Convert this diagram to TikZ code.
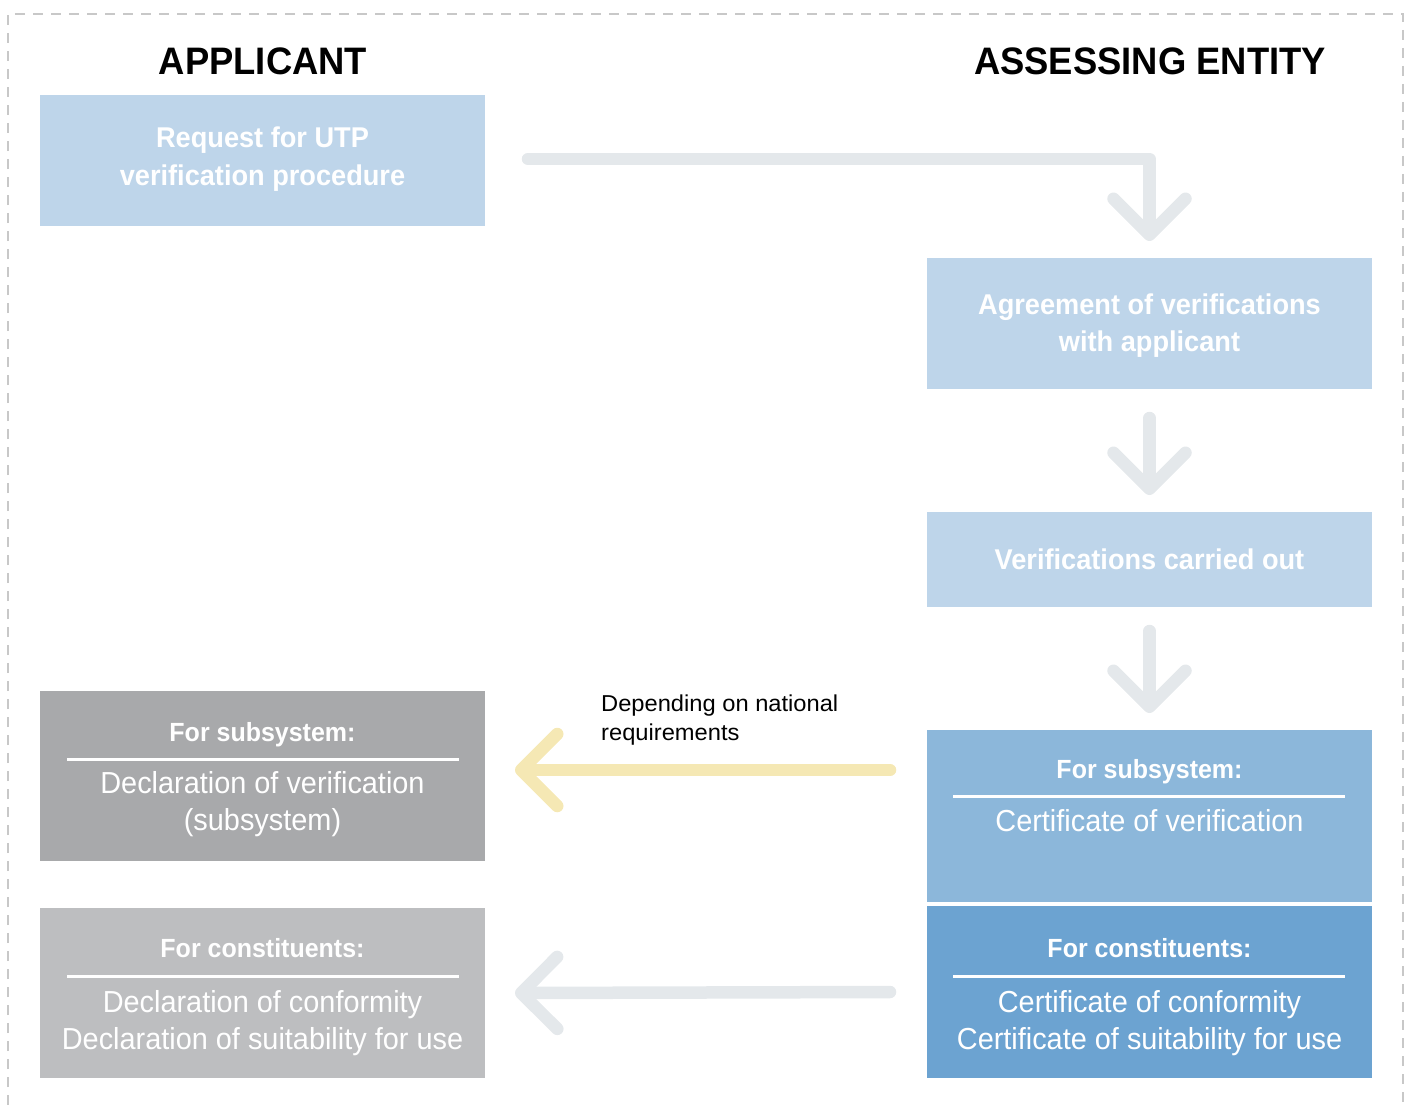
\documentclass[tikz,border=0pt]{standalone}
\usepackage{fontspec}
\setmainfont{Liberation Sans}[FakeStretch=0.95]
\newfontfamily\lblfont{Liberation Sans}[FakeStretch=1.03]
\usetikzlibrary{arrows.meta,calc}
\definecolor{lblue}{HTML}{BED5EA}
\definecolor{mblue}{HTML}{8CB7DA}
\definecolor{dblue}{HTML}{6CA3D1}
\definecolor{dgray}{HTML}{A8A9AB}
\definecolor{lgray}{HTML}{BDBEC0}
\definecolor{arrgray}{HTML}{E4E8EB}
\definecolor{arryel}{HTML}{F5E8B4}
\definecolor{bordergray}{HTML}{C8C8C8}
\begin{document}
\begin{tikzpicture}[x=1pt,y=-1pt,
  box/.style={fill=#1, draw=none, inner sep=0pt, outer sep=0pt, minimum width=445pt},
  heading/.style={font=\fontsize{38.3}{44}\selectfont\bfseries, text=black, anchor=base, inner sep=0pt},
  btxt/.style={font=\fontsize{28.6}{34}\selectfont\bfseries, text=white, anchor=base, inner sep=0pt},
  htxt/.style={font=\fontsize{26.3}{30}\selectfont\bfseries, text=white, anchor=base, inner sep=0pt},
  ntxt/.style={font=\fontsize{30.4}{35}\selectfont, text=white, anchor=base, inner sep=0pt},
  lbl/.style={font=\lblfont\fontsize{23}{28}\selectfont, text=black, anchor=base west, inner sep=0pt},
  rulel/.style={draw=white, line width=3pt},
  arr/.style={line width=12.5pt, draw=#1, line cap=round, line join=round,
    -{Straight Barb[length=36pt,width=72pt,round]}},
  arr/.default=arrgray,
  border/.style={draw=bordergray, line width=2pt, dash pattern=on 10pt off 8pt}
]
\useasboundingbox (0,0) rectangle (1408,1105);
\draw[border] (8,1105) -- (8,14) -- (1403,14) -- (1403,1105);

% headings
\node[heading] (happ) at (263,75) {APPLICANT};
\node[heading] (hass) at (1150,75) {ASSESSING ENTITY};

% boxes
\node[box=lblue, minimum height=131pt] (req) at (262.5,160.5) {};
\node[box=lblue, minimum height=131pt] (agr) at (1149.5,323.5) {};
\node[box=lblue, minimum height=95pt] (ver) at (1149.5,559.5) {};
\node[box=mblue, minimum height=172pt] (cs) at (1149.5,816) {};
\node[box=dblue, minimum height=172pt] (cc) at (1149.5,992) {};
\node[box=dgray, minimum height=170pt] (ds) at (262.5,776) {};
\node[box=lgray, minimum height=170pt] (dc) at (262.5,993) {};

% texts
\node[btxt] (reqA) at (262.5,148) {Request for UTP};
\node[btxt] (reqB) at (262.5,185) {verification procedure};
\node[btxt] (agrA) at (1149.5,314) {Agreement of verifications};
\node[btxt] (agrB) at (1149.5,351) {with applicant};
\node[btxt] (verA) at (1149.5,569) {Verifications carried out};

\node[htxt] (csH) at (1149.5,778) {For subsystem:};
\draw[rulel] ($(cs.north west)+(26,66)$) -- ($(cs.north east)+(-27,66)$);
\node[ntxt] (csA) at (1149.5,831) {Certificate of verification};

\node[htxt] (ccH) at (1149.5,957) {For constituents:};
\draw[rulel] ($(cc.north west)+(26,70)$) -- ($(cc.north east)+(-27,70)$);
\node[ntxt] (ccA) at (1149.5,1012) {Certificate of conformity};
\node[ntxt] (ccB) at (1149.5,1049) {Certificate of suitability for use};

\node[htxt] (dsH) at (262.5,741) {For subsystem:};
\draw[rulel] ($(ds.north west)+(27,68)$) -- ($(ds.north east)+(-26,68)$);
\node[ntxt] (dsA) at (262.5,793) {Declaration of verification};
\node[ntxt] (dsB) at (262.5,830) {(subsystem)};

\node[htxt] (dcH) at (262.5,957) {For constituents:};
\draw[rulel] ($(dc.north west)+(27,68)$) -- ($(dc.north east)+(-26,68)$);
\node[ntxt] (dcA) at (262.5,1012) {Declaration of conformity};
\node[ntxt] (dcB) at (262.5,1049) {Declaration of suitability for use};

% label
\node[lbl] (lblA) at (601,711) {Depending on national};
\node[lbl] (lblB) at (601,740) {requirements};

% arrows
\draw[arr] ([xshift=43pt,yshift=1.5pt]req.east) -| ([yshift=17pt]agr.north);
\draw[arr] ([yshift=-29pt]agr.south) -- ([yshift=17pt]ver.north);
\draw[arr] ([yshift=-24pt]ver.south) -- ([yshift=17pt]cs.north);
\draw[arr=arryel] ([xshift=-37pt,yshift=46pt]cs.west) -- ([xshift=30pt,yshift=6pt]ds.east);
\draw[arr] ([xshift=-37pt]cc.west) -- ([xshift=30pt]dc.east);
\end{tikzpicture}
\end{document}
